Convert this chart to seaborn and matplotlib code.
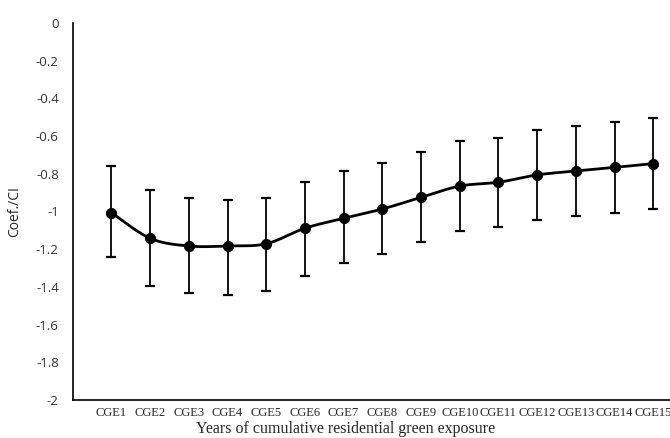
import numpy as np
import pandas as pd
import seaborn as sns
import matplotlib.pyplot as plt

# values
labels = ["CGE%d" % i for i in range(1, 16)]
coef = [-1.006, -1.142, -1.183, -1.183, -1.171, -1.089, -1.036, -0.987,
        -0.925, -0.865, -0.845, -0.806, -0.785, -0.766, -0.746]
ci_upper = [-0.757, -0.886, -0.927, -0.939, -0.927, -0.845, -0.785, -0.744,
            -0.683, -0.624, -0.608, -0.568, -0.546, -0.527, -0.506]
ci_lower = [-1.241, -1.393, -1.434, -1.441, -1.422, -1.340, -1.271, -1.224,
            -1.164, -1.102, -1.080, -1.047, -1.026, -1.006, -0.987]

df = pd.DataFrame({"label": labels, "coef": coef,
                   "upper": ci_upper, "lower": ci_lower})
df["pos"] = np.arange(1, len(df) + 1)

sns.set_style("white")
fig = plt.figure(figsize=(6.7, 4.38), dpi=100)
ax = fig.add_axes([72.7 / 670, 38 / 438, 1 - 72.7 / 670, 377 / 438])

# smoothed connecting line (Catmull-Rom style Bezier, like Excel's smoothed line)
x = df["pos"].to_numpy(float)
y = df["coef"].to_numpy(float)
px = np.concatenate([[x[0]], x, [x[-1]]])
py = np.concatenate([[y[0]], y, [y[-1]]])
t = np.linspace(0, 1, 30)[:, None]
sx, sy = [], []
for i in range(1, len(x)):
    p0 = np.array([px[i], py[i]])
    p3 = np.array([px[i + 1], py[i + 1]])
    c1 = p0 + (p3 - np.array([px[i - 1], py[i - 1]])) / 6
    c2 = p3 - (np.array([px[i + 2], py[i + 2]]) - p0) / 6
    seg = ((1 - t) ** 3) * p0 + 3 * ((1 - t) ** 2) * t * c1 + 3 * (1 - t) * t ** 2 * c2 + t ** 3 * p3
    sx.extend(seg[:, 0]); sy.extend(seg[:, 1])
ax.plot(sx, sy, color="black", lw=2, zorder=2)

# confidence intervals
ax.errorbar(df["pos"], df["coef"],
            yerr=[df["coef"] - df["lower"], df["upper"] - df["coef"]],
            fmt="none", ecolor="black", elinewidth=1.3, capsize=3.8,
            capthick=1.6, zorder=3)
sns.scatterplot(data=df, x="pos", y="coef", color="black", s=55,
                edgecolor="black", zorder=4, ax=ax, legend=False)

ax.set_xlim(0, (670 - 72.7) / 38.7)
ax.set_ylim(-2, 0)
ax.set_yticks(np.arange(-2, 0.01, 0.2))
ax.set_yticklabels(["-2", "-1.8", "-1.6", "-1.4", "-1.2", "-1", "-0.8",
                    "-0.6", "-0.4", "-0.2", "0"],
                   fontfamily="Open Sans", fontsize=9.5, color="#333333")
ax.set_xticks(df["pos"])
ax.set_xticklabels(df["label"], fontfamily="Liberation Serif", fontsize=9)
ax.tick_params(length=0, pad=10)
ax.tick_params(axis="x", pad=5)

ax.set_ylabel("Coef./CI", fontfamily="Open Sans", fontsize=10, labelpad=10)
ax.set_xlabel("Years of cumulative residential green exposure",
              fontfamily="Liberation Serif", fontsize=11.5)
# the original title sits a little left of the axis centre
ax.xaxis.set_label_coords((346 - 72.7) / 597.3, -21 / 377)

for s in ["top", "right"]:
    ax.spines[s].set_visible(False)
for s in ["left", "bottom"]:
    ax.spines[s].set_color("black")
    ax.spines[s].set_linewidth(1.2)

fig.savefig("out.png", dpi=100)
